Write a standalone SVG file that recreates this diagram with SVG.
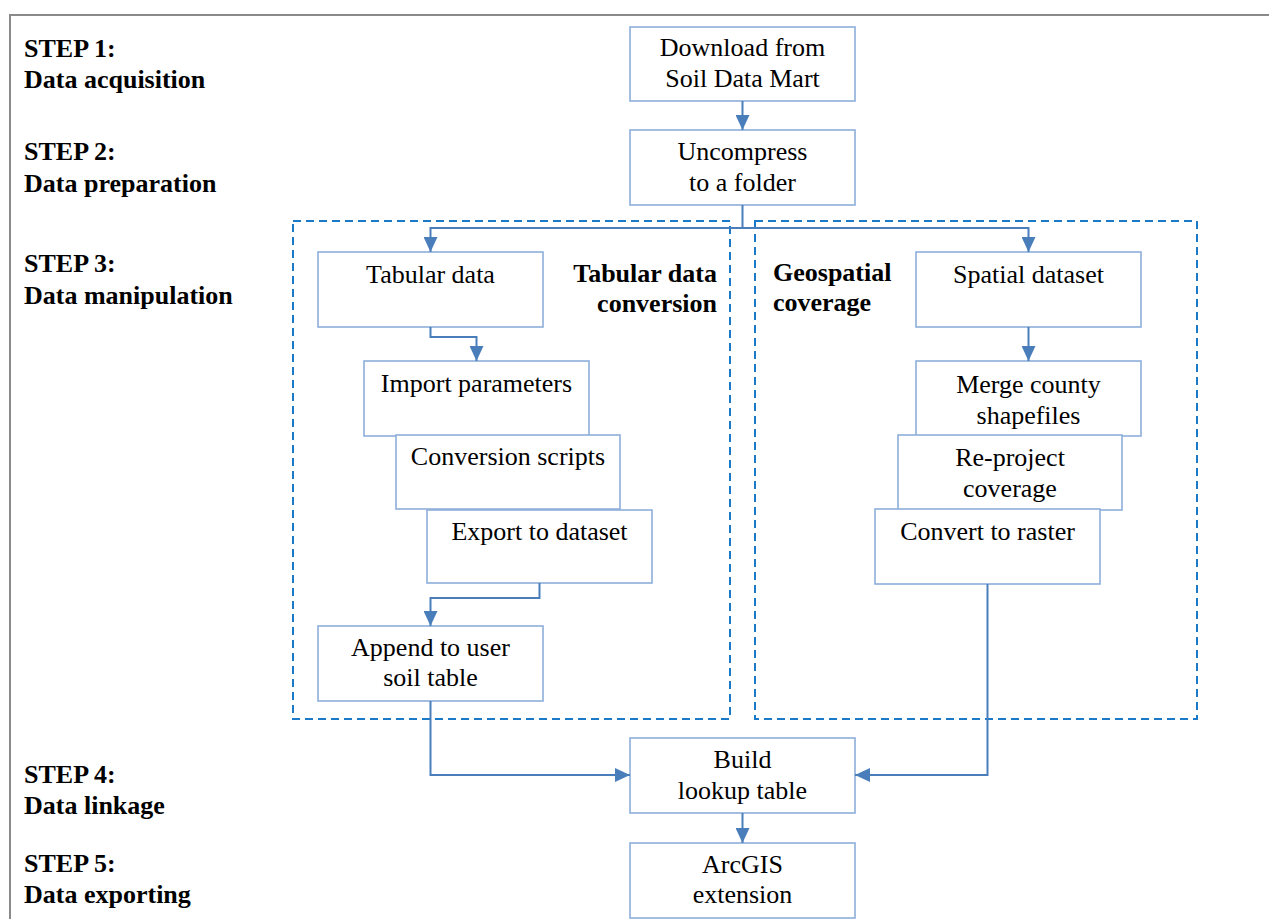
<svg xmlns="http://www.w3.org/2000/svg" width="1269" height="919" viewBox="0 0 1269 919">
<style>
.bg{fill:#ffffff}
.frame{fill:none;stroke:#8a8a8a;stroke-width:2}
.box{fill:#ffffff;stroke:#8eaedb;stroke-width:1.6}
.grp{fill:none;stroke:#1a7ac8;stroke-width:2;stroke-dasharray:8 5}
.con{fill:none;stroke:#4a7ebb;stroke-width:2}
.t{font-family:"Liberation Serif","Times New Roman",serif;font-size:26px;fill:#000;text-anchor:middle}
.s{font-family:"Liberation Serif","Times New Roman",serif;font-size:26px;font-weight:bold;fill:#000}
</style>
<defs>
<marker id="arr" markerUnits="userSpaceOnUse" markerWidth="16" markerHeight="14" refX="15" refY="7" orient="auto">
<path d="M0,0 L15,7 L0,14 z" fill="#4a7ebb"/>
</marker>
</defs>
<rect class="bg" x="0" y="0" width="1269" height="919"/>
<path class="frame" d="M10,919 V15 H1269"/>

<g id="step-labels">
<text class="s" x="24" y="57">STEP 1:</text>
<text class="s" x="24" y="88">Data acquisition</text>
<text class="s" x="24" y="160">STEP 2:</text>
<text class="s" x="24" y="192">Data preparation</text>
<text class="s" x="24" y="272">STEP 3:</text>
<text class="s" x="24" y="304">Data manipulation</text>
<text class="s" x="24" y="783">STEP 4:</text>
<text class="s" x="24" y="814">Data linkage</text>
<text class="s" x="24" y="872">STEP 5:</text>
<text class="s" x="24" y="903">Data exporting</text>
</g>

<g id="group-tabular">
<rect class="grp" x="293" y="221" width="437" height="498"/>
<text class="s" x="717" y="282" text-anchor="end">Tabular data</text>
<text class="s" x="717" y="312" text-anchor="end">conversion</text>
</g>
<g id="group-geospatial">
<rect class="grp" x="755" y="221" width="442" height="498"/>
<text class="s" x="773" y="281">Geospatial</text>
<text class="s" x="773" y="311">coverage</text>
</g>

<g id="node-download">
<rect class="box" x="630" y="27" width="225" height="74"/>
<text class="t" x="742.5" y="56">Download from</text>
<text class="t" x="742.5" y="87">Soil Data Mart</text>
</g>
<g id="node-uncompress">
<rect class="box" x="630" y="130" width="225" height="75"/>
<text class="t" x="742.5" y="160">Uncompress</text>
<text class="t" x="742.5" y="191">to a folder</text>
</g>
<g id="node-tabular">
<rect class="box" x="318" y="252" width="225" height="75"/>
<text class="t" x="430.5" y="283">Tabular data</text>
</g>
<g id="node-import">
<rect class="box" x="364" y="361" width="225" height="75"/>
<text class="t" x="476.5" y="392">Import parameters</text>
</g>
<g id="node-conversion">
<rect class="box" x="396" y="435" width="224" height="74"/>
<text class="t" x="508" y="465">Conversion scripts</text>
</g>
<g id="node-export">
<rect class="box" x="427" y="510" width="225" height="73"/>
<text class="t" x="539.5" y="540">Export to dataset</text>
</g>
<g id="node-append">
<rect class="box" x="318" y="626" width="225" height="75"/>
<text class="t" x="430.5" y="656">Append to user</text>
<text class="t" x="430.5" y="686">soil table</text>
</g>
<g id="node-spatial">
<rect class="box" x="916" y="252" width="225" height="75"/>
<text class="t" x="1028.5" y="283">Spatial dataset</text>
</g>
<g id="node-merge">
<rect class="box" x="916" y="361" width="225" height="75"/>
<text class="t" x="1028.5" y="393">Merge county</text>
<text class="t" x="1028.5" y="424">shapefiles</text>
</g>
<g id="node-reproject">
<rect class="box" x="898" y="435" width="224" height="75"/>
<text class="t" x="1010" y="466">Re-project</text>
<text class="t" x="1010" y="497">coverage</text>
</g>
<g id="node-raster">
<rect class="box" x="875" y="509" width="225" height="75"/>
<text class="t" x="987.5" y="540">Convert to raster</text>
</g>
<g id="node-lookup">
<rect class="box" x="630" y="738" width="225" height="75"/>
<text class="t" x="742.5" y="768">Build</text>
<text class="t" x="742.5" y="799">lookup table</text>
</g>
<g id="node-arcgis">
<rect class="box" x="630" y="843" width="225" height="75"/>
<text class="t" x="742.5" y="873">ArcGIS</text>
<text class="t" x="742.5" y="903">extension</text>
</g>

<g id="connectors">
<path class="con" d="M742.5,101 V130" marker-end="url(#arr)"/>
<path class="con" d="M742.5,205 V228 H430.5 V252" marker-end="url(#arr)"/>
<path class="con" d="M742.5,228 H1028.5 V252" marker-end="url(#arr)"/>
<path class="con" d="M430.5,327 V337 H476.5 V361" marker-end="url(#arr)"/>
<path class="con" d="M539.5,583 V598 H430.5 V626" marker-end="url(#arr)"/>
<path class="con" d="M1028.5,327 V361" marker-end="url(#arr)"/>
<path class="con" d="M430.5,701 V775 H630" marker-end="url(#arr)"/>
<path class="con" d="M987.5,584 V775 H855" marker-end="url(#arr)"/>
<path class="con" d="M742.5,813 V843" marker-end="url(#arr)"/>
</g>
</svg>
